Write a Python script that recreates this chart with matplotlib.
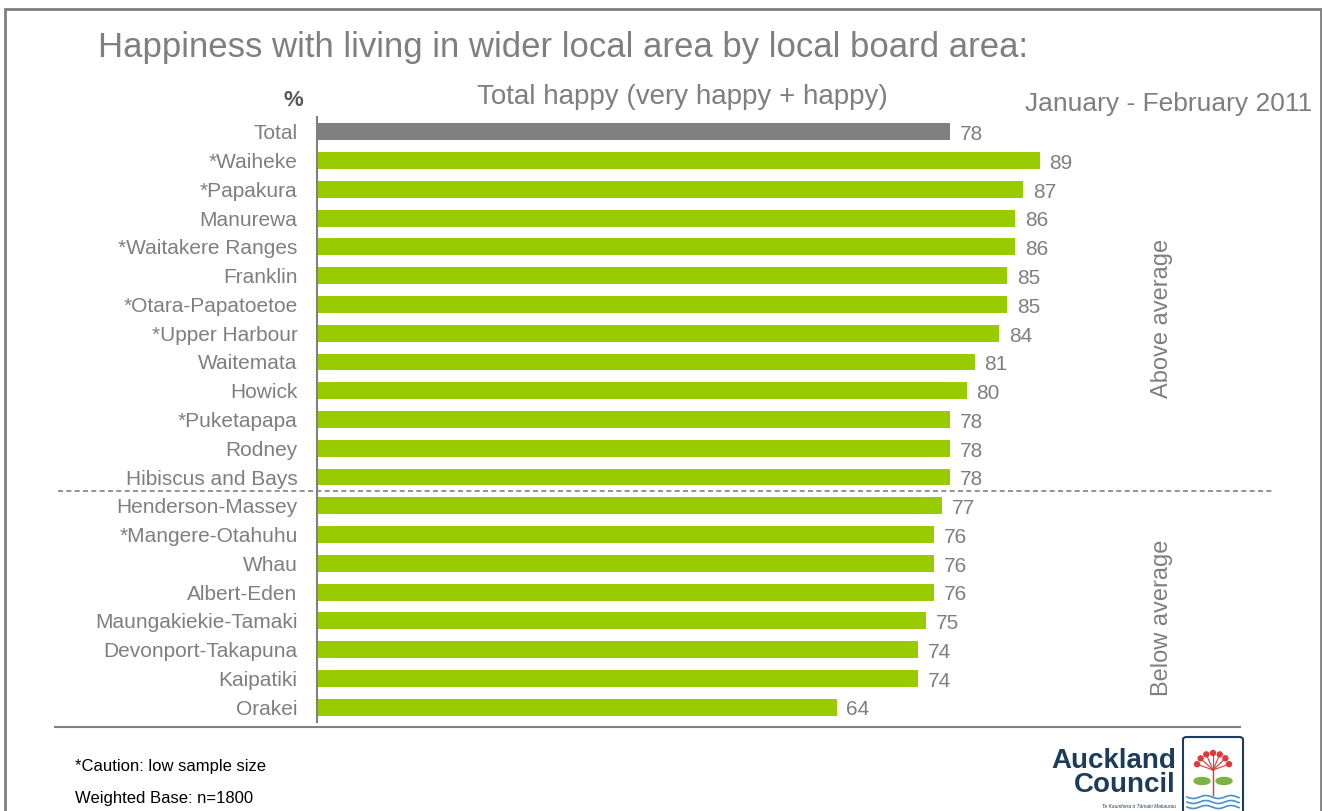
import numpy as np
import matplotlib
matplotlib.use("Agg")
import matplotlib.pyplot as plt
from matplotlib.patches import Rectangle, FancyBboxPatch, Ellipse
from matplotlib.lines import Line2D
import matplotlib.transforms as mtransforms

plt.rcParams['font.family'] = ['Liberation Sans', 'DejaVu Sans']

categories = ["Total", "*Waiheke", "*Papakura", "Manurewa", "*Waitakere Ranges",
              "Franklin", "*Otara-Papatoetoe", "*Upper Harbour", "Waitemata", "Howick",
              "*Puketapapa", "Rodney", "Hibiscus and Bays", "Henderson-Massey",
              "*Mangere-Otahuhu", "Whau", "Albert-Eden", "Maungakiekie-Tamaki",
              "Devonport-Takapuna", "Kaipatiki", "Orakei"]
values = [78, 89, 87, 86, 86, 85, 85, 84, 81, 80, 78, 78, 78, 77, 76, 76, 76, 75, 74, 74, 64]
title = "Happiness with living in wider local area by local board area:"
subtitle = "Total happy (very happy + happy)"
period = "January - February 2011"
group_labels = ["Above average", "Below average"]
n_above = 12  # rows after Total that are above average

W, H = 1322, 811
fig = plt.figure(figsize=(W / 100, H / 100), dpi=100)
GRAY = "#808080"
TXT = "#7f7f7f"
GREEN = "#99CC00"

def fx(px):
    return px / W

def fy(py):
    return 1 - py / H

ax_left, ax_right, ax_top, ax_bot = 317, 1292, 117, 722
ax = fig.add_axes([fx(ax_left), fy(ax_bot), fx(ax_right - ax_left), (ax_bot - ax_top) / H])
ypos = np.arange(len(categories))
colors = [GRAY] + [GREEN] * (len(categories) - 1)
ax.barh(ypos, values, height=0.59, color=colors, edgecolor='none')
ax.set_xlim(0, (ax_right - ax_left) / 8.12)
ax.set_ylim(len(categories) - 1 + 0.52, -0.52)
for s in ["top", "right", "bottom"]:
    ax.spines[s].set_visible(False)
ax.spines["left"].set_color(GRAY)
ax.spines["left"].set_linewidth(1.5)
ax.set_xticks([])
ax.set_yticks(ypos)
ax.set_yticklabels(categories, fontsize=15, color=TXT)
ax.tick_params(axis='y', length=0, pad=14)
ax.patch.set_alpha(0)

for y, v in zip(ypos, values):
    ax.annotate(str(v), (v, y), xytext=(7, -2), textcoords='offset points',
                ha='left', va='center', fontsize=15, color=TXT)

# dashed separator
trans = mtransforms.blended_transform_factory(fig.transFigure, ax.transData)
sep_y = n_above + 0.5
fig.add_artist(Line2D([fx(58), fx(1272)], [sep_y, sep_y], transform=trans,
                      color=GRAY, lw=1.2, ls=(0, (3, 2))))

# group labels
ax.text(fx(1162), (1 + n_above) / 2, group_labels[0], transform=trans, rotation=90,
        ha='center', va='center', fontsize=17, color=TXT)
ax.text(fx(1162), (n_above + 1 + len(categories) - 1) / 2 + 0.4, group_labels[1],
        transform=trans, rotation=90, ha='center', va='center', fontsize=17, color=TXT)

# titles
fig.text(fx(98), fy(47), title, ha='left', va='center', fontsize=25, color=TXT)
fig.text(fx(682), fy(97), subtitle, ha='center', va='center', fontsize=20, color=TXT)
fig.text(fx(293), fy(101), "%", ha='center', va='center', fontsize=16, color="#595959",
         fontweight='bold')
fig.text(fx(1312), fy(104), period, ha='right', va='center', fontsize=19, color=TXT)

# footnotes
fig.text(fx(75), fy(767), "*Caution: low sample size", ha='left', va='center', fontsize=12,
         color="#000000")
fig.text(fx(75), fy(799), "Weighted Base: n=1800", ha='left', va='center', fontsize=12,
         color="#000000")

# bottom rule
fig.add_artist(Line2D([fx(55), fx(1240)], [fy(727), fy(727)], color=GRAY, lw=1.5))

# outer frame
fig.add_artist(Rectangle((fx(5), fy(830)), fx(1316), (830 - 9) / H, fill=False,
                         edgecolor=GRAY, lw=2, transform=fig.transFigure))

# logo
NAVY = "#1d3c5c"
fig.text(fx(1176), fy(773), "Auckland\nCouncil", ha='right', va='center', fontsize=20,
         fontweight='bold', color=NAVY, multialignment='right', linespacing=0.95)
fig.text(fx(1176), fy(806), "Te Kaunihera o Tāmaki Makaurau", ha='right', va='center',
         fontsize=3.5, color=NAVY, style='italic')
fig.add_artist(FancyBboxPatch((fx(1183), fy(830)), fx(60), (830 - 737) / H,
                              boxstyle="round,pad=0,rounding_size=0.003",
                              fill=False, edgecolor=NAVY, lw=1.5, transform=fig.transFigure))
cx, cy = 1213, 770
for ang in np.linspace(200, 340, 7):
    r = 17
    px_ = cx + r * np.cos(np.radians(ang))
    py_ = cy + r * np.sin(np.radians(ang))
    fig.add_artist(Line2D([fx(cx), fx(px_)], [fy(cy), fy(py_)], color="#d83a3a", lw=0.8))
    fig.add_artist(Ellipse((fx(px_), fy(py_)), fx(5), 5 / H, color="#e0383a",
                           transform=fig.transFigure))
fig.add_artist(Ellipse((fx(1202), fy(781)), fx(16), 7 / H, color="#7cb342",
                       transform=fig.transFigure))
fig.add_artist(Ellipse((fx(1224), fy(781)), fx(16), 7 / H, color="#7cb342",
                       transform=fig.transFigure))
fig.add_artist(Line2D([fx(cx), fx(cx)], [fy(cy), fy(795)], color="#d83a3a", lw=1))
xs = np.linspace(1187, 1239, 40)
for yy in [797, 802, 807]:
    ys = yy + 1.5 * np.sin((xs - 1187) / 4)
    fig.add_artist(Line2D(fx(xs), fy(ys), color="#4a90c8", lw=1.2))

fig.savefig("out.png", dpi=100)
